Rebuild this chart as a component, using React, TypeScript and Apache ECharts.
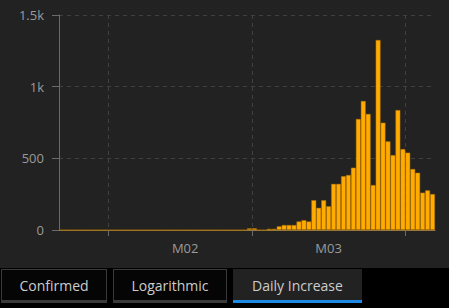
import React, { useEffect, useRef } from "react";
import * as echarts from "echarts";

// ---- data ----
const START_DATE = "2020-01-22";
const DAY_COUNT = 76;
const dailyIncrease = [
  0, 0, 0, 0, 0, 0, 0, 0, 0, 0, // Jan 22 - Jan 31
  0, 0, 0, 0, 0, 0, 0, 0, 0, 0, // Feb 1 - Feb 10
  0, 0, 0, 0, 0, 0, 0, 0, 0, 0, // Feb 11 - Feb 20
  0, 0, 0, 0, 0, 0, 0, 0, 12, // Feb 21 - Feb 29
  12, 0, 0, 9, 9, 26, 35, 35, 35, 60, // Mar 1 - Mar 10
  69, 60, 208, 155, 208, 166, 322, 322, 376, 384, // Mar 11 - Mar 20
  435, 775, 900, 810, 314, 1326, 749, 619, 523, 837, // Mar 21 - Mar 30
  565, // Mar 31
  540, 426, 400, 261, 277, 251, // Apr 1 - Apr 6
];
const yTickValues = [0, 500, 1000, 1500];
const yTickLabels = ["0", "500", "1k", "1.5k"];
const tabs = ["Confirmed", "Logarithmic", "Daily Increase"];
const ACTIVE_TAB = 2;

function buildDates(start: string, n: number): string[] {
  const out: string[] = [];
  const d = new Date(start + "T00:00:00Z");
  for (let i = 0; i < n; i++) {
    const c = new Date(d.getTime() + i * 86400000);
    out.push(c.toISOString().slice(0, 10));
  }
  return out;
}
const dates = buildDates(START_DATE, DAY_COUNT);
// month boundaries, as day offsets from the start of the first category
const monthStartOffsets = dates
  .map((d, i) => (d.endsWith("-01") ? i : -1))
  .filter((i) => i >= 0);

const FONT = "'Open Sans', 'Noto Sans', sans-serif";

const tabBoxes = [
  { left: 1, width: 106 },
  { left: 113, width: 114 },
  { left: 233, width: 129 },
];

export default function App() {
  const ref = useRef<HTMLDivElement>(null);

  useEffect(() => {
    document.body.style.margin = "0";
    if (!ref.current) return;
    const chart = echarts.init(ref.current, undefined, { renderer: "svg" });
    chart.setOption({
      animation: false,
      backgroundColor: "#222222",
      grid: { left: 59, right: 14, top: 15, bottom: 38 },
      xAxis: [
        {
          type: "category",
          data: dates,
          boundaryGap: true,
          axisLine: { show: true, lineStyle: { color: "#9a7a3c", width: 1 } },
          axisTick: { show: false },
          axisLabel: {
            color: "#9a9a9a",
            fontSize: 13,
            fontFamily: FONT,
            margin: 11,
            interval: (_i: number, v: string) => v.endsWith("-16"),
            formatter: (v: string) => "M" + v.slice(5, 7),
          },
          splitLine: { show: false },
        },
        {
          type: "value",
          position: "bottom",
          min: 0,
          max: DAY_COUNT,
          axisLine: { show: false },
          axisLabel: { show: false, customValues: monthStartOffsets },
          axisTick: {
            show: true,
            length: 6,
            lineStyle: { color: "#6a6a6a" },
            customValues: monthStartOffsets,
          },
          splitLine: {
            show: true,
            lineStyle: { color: "#404040", type: [4, 4] },
          },
        },
      ],
      yAxis: {
        type: "value",
        min: 0,
        max: 1500,
        interval: 500,
        axisLine: { show: true, lineStyle: { color: "#6a6a6a" } },
        axisTick: { show: true, length: 7, lineStyle: { color: "#6a6a6a" } },
        axisLabel: {
          color: "#9a9a9a",
          fontSize: 13,
          fontFamily: FONT,
          margin: 15,
          formatter: (v: number) => {
            const i = yTickValues.indexOf(v);
            return i >= 0 ? yTickLabels[i] : String(v);
          },
        },
        splitLine: {
          show: true,
          lineStyle: { color: "#404040", type: [4, 4] },
        },
      },
      series: [
        {
          type: "bar",
          xAxisIndex: 0,
          data: dailyIncrease,
          barCategoryGap: 0,
          itemStyle: {
            color: "#ffab00",
            borderColor: "rgba(170,110,0,0.8)",
            borderWidth: 0.6,
          },
        },
      ],
    });
    return () => chart.dispose();
  }, []);

  return (
    <div style={{ position: "relative", width: 449, height: 308, background: "#000" }}>
      <div ref={ref} style={{ width: 449, height: 268 }} />
      {tabs.map((t, i) => {
        const active = i === ACTIVE_TAB;
        const b = tabBoxes[i];
        return (
          <div
            key={t}
            style={{
              position: "absolute",
              top: 269,
              left: b.left,
              width: b.width,
              height: 34,
              boxSizing: "border-box",
              background: active ? "#222222" : "#050505",
              border: active ? "none" : "1px solid #3a3a3a",
              borderBottom: active ? "3px solid #1e88e5" : "3px solid #3a3a3a",
              color: "#cccccc",
              fontFamily: FONT,
              fontSize: 14,
              display: "flex",
              alignItems: "center",
              justifyContent: "center",
              paddingTop: 1,
            }}
          >
            {t}
          </div>
        );
      })}
    </div>
  );
}
